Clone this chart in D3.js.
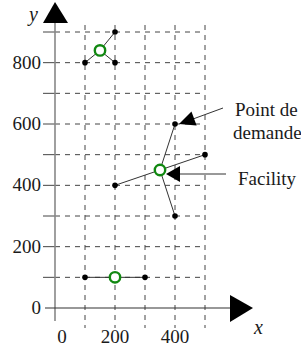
<!DOCTYPE html>
<html>
<head>
<meta charset="utf-8">
<script src="https://cdn.jsdelivr.net/npm/d3@7"></script>
<style>
  body { margin: 0; background: #fff; }
</style>
</head>
<body>
<div id="chart"></div>
<script>
// facilities and the demand points they serve
var facilities = [[150, 840], [350, 450], [200, 100]];
var demandPoints = [
  [[100, 800], [200, 900], [200, 800]],
  [[200, 400], [400, 600], [500, 500], [400, 300]],
  [[100, 100], [300, 100]]
];
var xGrid = [100, 200, 300, 400, 500];
var yGrid = [100, 200, 300, 400, 500, 600, 700, 800, 900];
var xTickLabels = [0, 200, 400];
var yTickLabels = [0, 200, 400, 600, 800];

var serif = '"Liberation Serif", "Times New Roman", serif';
var w = 301, h = 349;
var svg = d3.select('#chart').append('svg')
  .attr('width', w)
  .attr('height', h);

var x = d3.scaleLinear().domain([0, 500]).range([55, 205]);
var y = d3.scaleLinear().domain([0, 900]).range([308, 32]);

function label(sel, size) {
  return sel.style('font-family', serif)
    .style('font-size', size + 'px')
    .attr('fill', '#1a1a1a');
}

// grid
svg.append('g').selectAll('line')
  .data(yGrid).enter().append('line')
  .attr('x1', x(0)).attr('x2', x(500))
  .attr('y1', function(d){ return y(d); })
  .attr('y2', function(d){ return y(d); })
  .attr('stroke', '#444').attr('stroke-width', 1)
  .attr('stroke-dasharray', '5,5');
svg.append('g').selectAll('line')
  .data(yGrid).enter().append('line')
  .attr('x1', 43).attr('x2', x(0))
  .attr('y1', function(d){ return y(d); })
  .attr('y2', function(d){ return y(d); })
  .attr('stroke', '#444').attr('stroke-width', 1);
svg.append('g').selectAll('line')
  .data(xGrid).enter().append('line')
  .attr('x1', function(d){ return x(d); })
  .attr('x2', function(d){ return x(d); })
  .attr('y1', 25).attr('y2', 328)
  .attr('stroke', '#444').attr('stroke-width', 1)
  .attr('stroke-dasharray', '5,5');

// axes
svg.append('line')
  .attr('x1', x(0)).attr('x2', x(0))
  .attr('y1', 20).attr('y2', 321)
  .attr('stroke', '#888').attr('stroke-width', 1.6);
svg.append('path')
  .attr('d', 'M43,23L' + x(0) + ',2L68,23Z')
  .attr('fill', '#000');
svg.append('line')
  .attr('x1', 45).attr('x2', 232)
  .attr('y1', y(0)).attr('y2', y(0))
  .attr('stroke', '#333').attr('stroke-width', 1.2);
svg.append('path')
  .attr('d', 'M230,295L253,' + y(0) + 'L230,322Z')
  .attr('fill', '#000');

// tick labels
label(svg.append('g').selectAll('text')
  .data(yTickLabels).enter().append('text')
  .attr('x', 41)
  .attr('y', function(d){ return y(d) + 6; })
  .attr('text-anchor', 'end'), 19)
  .text(function(d){ return d; });
label(svg.append('g').selectAll('text')
  .data(xTickLabels).enter().append('text')
  .attr('x', function(d){ return d == 0 ? x(d) + 7 : x(d); })
  .attr('y', 343)
  .attr('text-anchor', 'middle'), 19)
  .text(function(d){ return d; });

label(svg.append('text').attr('x', 29).attr('y', 21), 20)
  .style('font-style', 'italic').text('y');
label(svg.append('text').attr('x', 254).attr('y', 334), 20)
  .style('font-style', 'italic').text('x');

// links facility -> demand
facilities.forEach(function(f, i){
  svg.append('g').selectAll('line')
    .data(demandPoints[i]).enter().append('line')
    .attr('x1', x(f[0])).attr('y1', y(f[1]))
    .attr('x2', function(d){ return x(d[0]); })
    .attr('y2', function(d){ return y(d[1]); })
    .attr('stroke', '#333').attr('stroke-width', 1);
});

// demand points
svg.append('g').selectAll('circle')
  .data(d3.merge(demandPoints)).enter().append('circle')
  .attr('cx', function(d){ return x(d[0]); })
  .attr('cy', function(d){ return y(d[1]); })
  .attr('r', 2.8)
  .attr('fill', '#000');

// facilities
svg.append('g').selectAll('circle')
  .data(facilities).enter().append('circle')
  .attr('cx', function(d){ return x(d[0]); })
  .attr('cy', function(d){ return y(d[1]); })
  .attr('r', 5.2)
  .attr('fill', '#fff')
  .attr('stroke', '#118811')
  .attr('stroke-width', 2.4);

// annotations
var tip1 = [x(400) + 4, y(600)];
svg.append('line')
  .attr('x1', 223).attr('y1', 108)
  .attr('x2', tip1[0] + 14).attr('y2', tip1[1] - 5)
  .attr('stroke', '#333').attr('stroke-width', 1);
var ang = Math.atan2(108 - tip1[1], 223 - tip1[0]);
var len = 16, hw = 7.5;
var bx = tip1[0] + len * Math.cos(ang), by = tip1[1] + len * Math.sin(ang);
svg.append('path')
  .attr('d', 'M' + tip1[0] + ',' + tip1[1] +
    'L' + (bx - hw * Math.sin(ang)) + ',' + (by + hw * Math.cos(ang)) +
    'L' + (bx + hw * Math.sin(ang)) + ',' + (by - hw * Math.cos(ang)) + 'Z')
  .attr('fill', '#000');
label(svg.append('text').attr('x', 235).attr('y', 116), 19).text('Point de');
label(svg.append('text').attr('x', 233).attr('y', 139), 19).text('demande');

var tip2 = [x(350) + 6, y(450) + 4];
svg.append('line')
  .attr('x1', tip2[0] + 12).attr('y1', tip2[1])
  .attr('x2', 226).attr('y2', tip2[1])
  .attr('stroke', '#333').attr('stroke-width', 1);
svg.append('path')
  .attr('d', 'M' + tip2[0] + ',' + tip2[1] + 'L' + (tip2[0] + 14) + ',' + (tip2[1] - 8) +
    'L' + (tip2[0] + 14) + ',' + (tip2[1] + 8) + 'Z')
  .attr('fill', '#000');
label(svg.append('text').attr('x', 238).attr('y', 185), 19).text('Facility');
</script>
</body>
</html>
